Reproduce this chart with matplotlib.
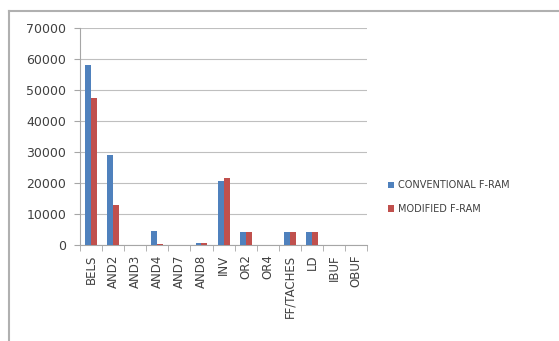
import matplotlib.pyplot as plt
import numpy as np
from matplotlib.lines import Line2D

# категорії та значення
categories = ['BELS', 'AND2', 'AND3', 'AND4', 'AND7', 'AND8', 'INV',
              'OR2', 'OR4', 'FF/TACHES', 'LD', 'IBUF', 'OBUF']
conventional = [58000, 29000, 0, 4500, 0, 600, 20500, 4200, 0, 4200, 4200, 0, 0]
modified = [47500, 12800, 0, 300, 0, 600, 21500, 4200, 0, 4200, 4200, 0, 0]

blue = '#4F81BD'
red = '#C0504D'
grey = '#A6A6A6'

fig = plt.figure(figsize=(5.59, 3.41), dpi=100)
ax = fig.add_axes([0.143, 0.282, 0.514, 0.636])

x = np.arange(len(categories))
w = 0.27
ax.bar(x - w / 2, conventional, w, color=blue, label='CONVENTIONAL F-RAM', zorder=3)
ax.bar(x + w / 2, modified, w, color=red, label='MODIFIED F-RAM', zorder=3)

ax.set_xlim(-0.5, len(categories) - 0.5)
ax.set_ylim(0, 70000)
ax.set_yticks(range(0, 70001, 10000))
ax.yaxis.grid(True, color='#BFBFBF', linewidth=0.8, zorder=0)

ax.set_xticks(x)
ax.set_xticklabels(categories, rotation=90, fontsize=8.5, color='#404040')
ax.set_xticks(np.arange(-0.5, len(categories), 1), minor=True)
ax.tick_params(axis='x', which='major', length=0, pad=7)
ax.tick_params(axis='x', which='minor', length=4, color=grey)
ax.tick_params(axis='y', length=4, color=grey, labelsize=9, labelcolor='#404040', pad=6)

for s in ['top', 'right']:
    ax.spines[s].set_visible(False)
ax.spines['left'].set_color(grey)
ax.spines['bottom'].set_color(grey)

ax.legend(loc='center left', bbox_to_anchor=(1.04, 0.22), frameon=False,
          fontsize=7, handlelength=0.7, handleheight=0.7, labelspacing=1.4,
          handletextpad=0.4, labelcolor='#404040')

# рамка навколо діаграми
fig.add_artist(Line2D([9 / 559, 1], [1 - 11 / 341] * 2, color='#B0B0B0', lw=1.5,
                      transform=fig.transFigure))
fig.add_artist(Line2D([9 / 559] * 2, [0, 1 - 11 / 341], color='#B0B0B0', lw=1.5,
                      transform=fig.transFigure))

fig.savefig('out.png', dpi=100)
